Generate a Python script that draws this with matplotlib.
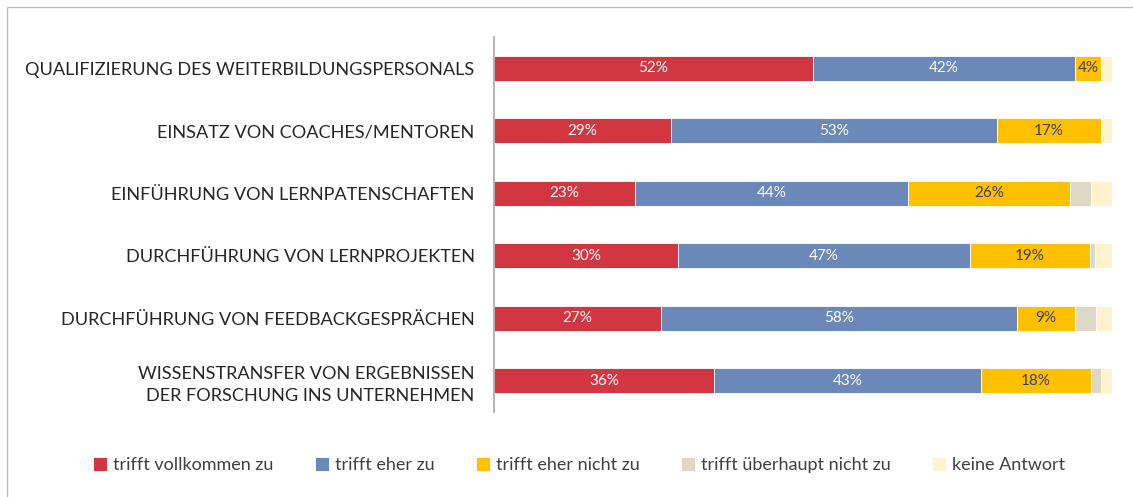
import numpy as np
import matplotlib.pyplot as plt
from matplotlib.patches import Rectangle

plt.rcParams['font.family'] = ['Lato', 'DejaVu Sans']

# Daten
kategorien = ['QUALIFIZIERUNG DES WEITERBILDUNGSPERSONALS',
              'EINSATZ VON COACHES/MENTOREN',
              'EINFÜHRUNG VON LERNPATENSCHAFTEN',
              'DURCHFÜHRUNG VON LERNPROJEKTEN',
              'DURCHFÜHRUNG VON FEEDBACKGESPRÄCHEN',
              'WISSENSTRANSFER VON ERGEBNISSEN\nDER FORSCHUNG INS UNTERNEHMEN']
vollkommen = [51.6, 28.6, 22.8, 29.8, 27.0, 35.6]
eher_zu = [42.4, 52.8, 44.2, 47.2, 57.6, 43.2]
eher_nicht = [4.2, 16.8, 26.2, 19.4, 9.4, 17.8]
ueberhaupt_nicht = [0.0, 0.0, 3.4, 0.9, 3.4, 1.6]
keine_antwort = [1.8, 1.8, 3.4, 2.7, 2.6, 1.8]

serien = ['trifft vollkommen zu', 'trifft eher zu', 'trifft eher nicht zu',
          'trifft überhaupt nicht zu', 'keine Antwort']
farben = ['#D13641', '#6B89B8', '#FFC000', '#DDD9C4', '#FFF2CC']
werte = [vollkommen, eher_zu, eher_nicht, ueberhaupt_nicht, keine_antwort]
beschriftet = [True, True, True, False, False]
textfarben = ['white', 'white', '#404040', None, None]

fig = plt.figure(figsize=(11.33, 4.97), dpi=100)
ax = fig.add_axes([0.436, 0.171, 0.5455, 0.7546])

y = np.arange(len(kategorien))
links = np.zeros(len(kategorien))
for name, farbe, w, lab, tf in zip(serien, farben, werte, beschriftet, textfarben):
    w = np.array(w)
    ax.barh(y, w, left=links, height=0.4, color=farbe, label=name,
            edgecolor='white', linewidth=0.6)
    if lab:
        for yi, (l, v) in enumerate(zip(links, w)):
            if v > 0:
                ax.text(l + v / 2, yi, f'{round(v)}%', ha='center', va='center',
                        color=tf, fontsize=11)
    links += w

ax.set_xlim(0, 100)
ax.set_ylim(len(kategorien) - 0.5, -0.5)
ax.set_yticks(y)
ax.set_yticklabels(kategorien, fontsize=13.1, color='#262626', linespacing=1.45)
ax.tick_params(axis='y', length=0, pad=14)
ax.set_xticks([])
for s in ['top', 'right', 'bottom']:
    ax.spines[s].set_visible(False)
ax.spines['left'].set_color('#A6A6A6')
ax.spines['left'].set_linewidth(1.2)

for t in ax.get_yticklabels():
    t.set_horizontalalignment('right')
    t.set_multialignment('right')

fig.legend(loc='lower center', bbox_to_anchor=(0.511, 0.015), ncol=5,
           frameon=False, fontsize=13, handlelength=0.8, handleheight=0.8,
           handletextpad=0.3, columnspacing=2.3, labelcolor='#404040')

# Rahmen
fig.add_artist(Rectangle((0.006, -0.01), 1.2, 0.996, transform=fig.transFigure,
                         fill=False, edgecolor='#BFBFBF', linewidth=1))

fig.savefig('out.png', dpi=100)
